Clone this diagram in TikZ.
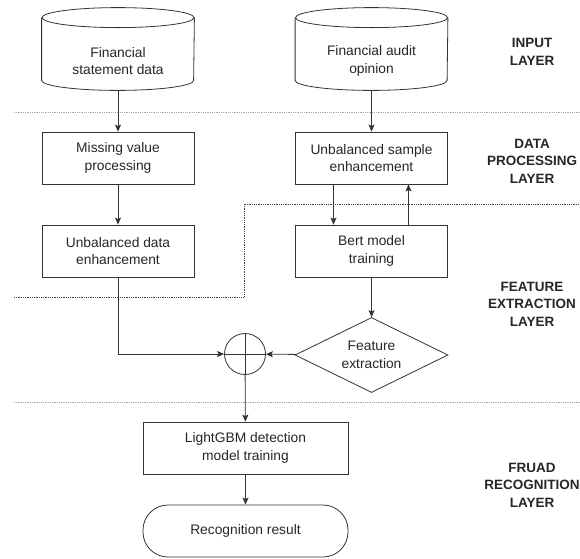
\documentclass[tikz,border=0pt]{standalone}
\usepackage{fontspec}
\setmainfont{Liberation Sans}
\usetikzlibrary{shapes.geometric,arrows.meta}
\begin{document}
\begin{tikzpicture}[x=1pt, y=-1pt, line width=0.8pt,
  every node/.style={font=\fontsize{13.8}{17.5}\selectfont, text=black!85, align=center},
  box/.style={draw=black!80, rectangle, minimum width=152pt, minimum height=52pt, inner sep=0pt},
  db/.style={rectangle, minimum width=152pt, minimum height=82pt, inner sep=0pt},
  layer/.style={font=\fontsize{13.5}{17.5}\selectfont\bfseries},
  flow/.style={draw=black!80, -{Stealth[length=7pt, width=6pt, inset=1.5pt]}},
  sep/.style={gray!70, densely dotted}]
\useasboundingbox (0,0) rectangle (580,558);

% Layer separators
\draw[sep] (14,112) -- (580,112);
\draw[sep, black!75] (14,297) -- (244,297) -- (244,204) -- (580,204);
\draw[sep] (14,402) -- (580,402);

% Input layer (data stores)
\node[db] (fsd) at (118,49) {};
\node[db] (fao) at (371.5,49) {};
\foreach \n in {fsd,fao}{
  \draw[black!80] ([yshift=-10pt]\n.north west) -- ([yshift=10pt]\n.south west)
    arc[start angle=180, end angle=360, x radius=76pt, y radius=10pt] -- ([yshift=-10pt]\n.north east);
  \draw[black!80] ([yshift=-10pt]\n.north) ellipse[x radius=76pt, y radius=10pt];
}
\node (fsdtext) at ([yshift=-12pt]fsd.center) {Financial\\statement data};
\node (faotext) at ([yshift=-12pt]fao.center) {Financial audit\\opinion};

% Data processing
\node[box] (mvp) at (118,158) {Missing value\\processing};
\node[box] (usa) at (371.5,158) {Unbalanced sample\\enhancement};
\node[box] (ude) at (118,251) {Unbalanced data\\enhancement};
\node[box] (bert) at (371.5,251) {Bert model\\training};

% Feature extraction and fusion
\node[draw=black!80, diamond, aspect=2, minimum width=153pt, minimum height=75pt, inner sep=0pt] (fe) at (371.5,355) {Feature\\extraction};
\node[draw=black!80, circle, minimum size=41pt, inner sep=0pt,
  path picture={\draw[black!80] (path picture bounding box.north) -- (path picture bounding box.south)
    (path picture bounding box.west) -- (path picture bounding box.east);}] (sum) at (245,354) {};

% Recognition
\node[box, minimum width=205pt] (lgb) at (245.5,448) {LightGBM detection\\model training};
\node[box, minimum width=205pt, rounded corners=25pt] (res) at (245.5,531) {Recognition result};

% Connectors
\draw[flow] (fsd.south) -- (mvp.north);
\draw[flow] (fao.south) -- (usa.north);
\draw[flow] (mvp) -- (ude);
\draw[flow] ([xshift=-38pt]usa.south) -- ([xshift=-38pt]bert.north);
\draw[flow] ([xshift=37pt]bert.north) -- ([xshift=37pt]usa.south);
\draw[flow] (bert) -- (fe);
\draw[flow] (ude.south) |- (sum.west);
\draw[flow] (fe) -- (sum);
\draw[flow] (sum) -- (lgb);
\draw[flow] (lgb) -- (res);

% Layer names
\node[layer] (l1) at (532,52) {INPUT\\LAYER};
\node[layer] (l2) at (532,161) {DATA\\PROCESSING\\LAYER};
\node[layer] (l3) at (532,304) {FEATURE\\EXTRACTION\\LAYER};
\node[layer] (l4) at (532,485) {FRUAD\\RECOGNITION\\LAYER};
\end{tikzpicture}
\end{document}
